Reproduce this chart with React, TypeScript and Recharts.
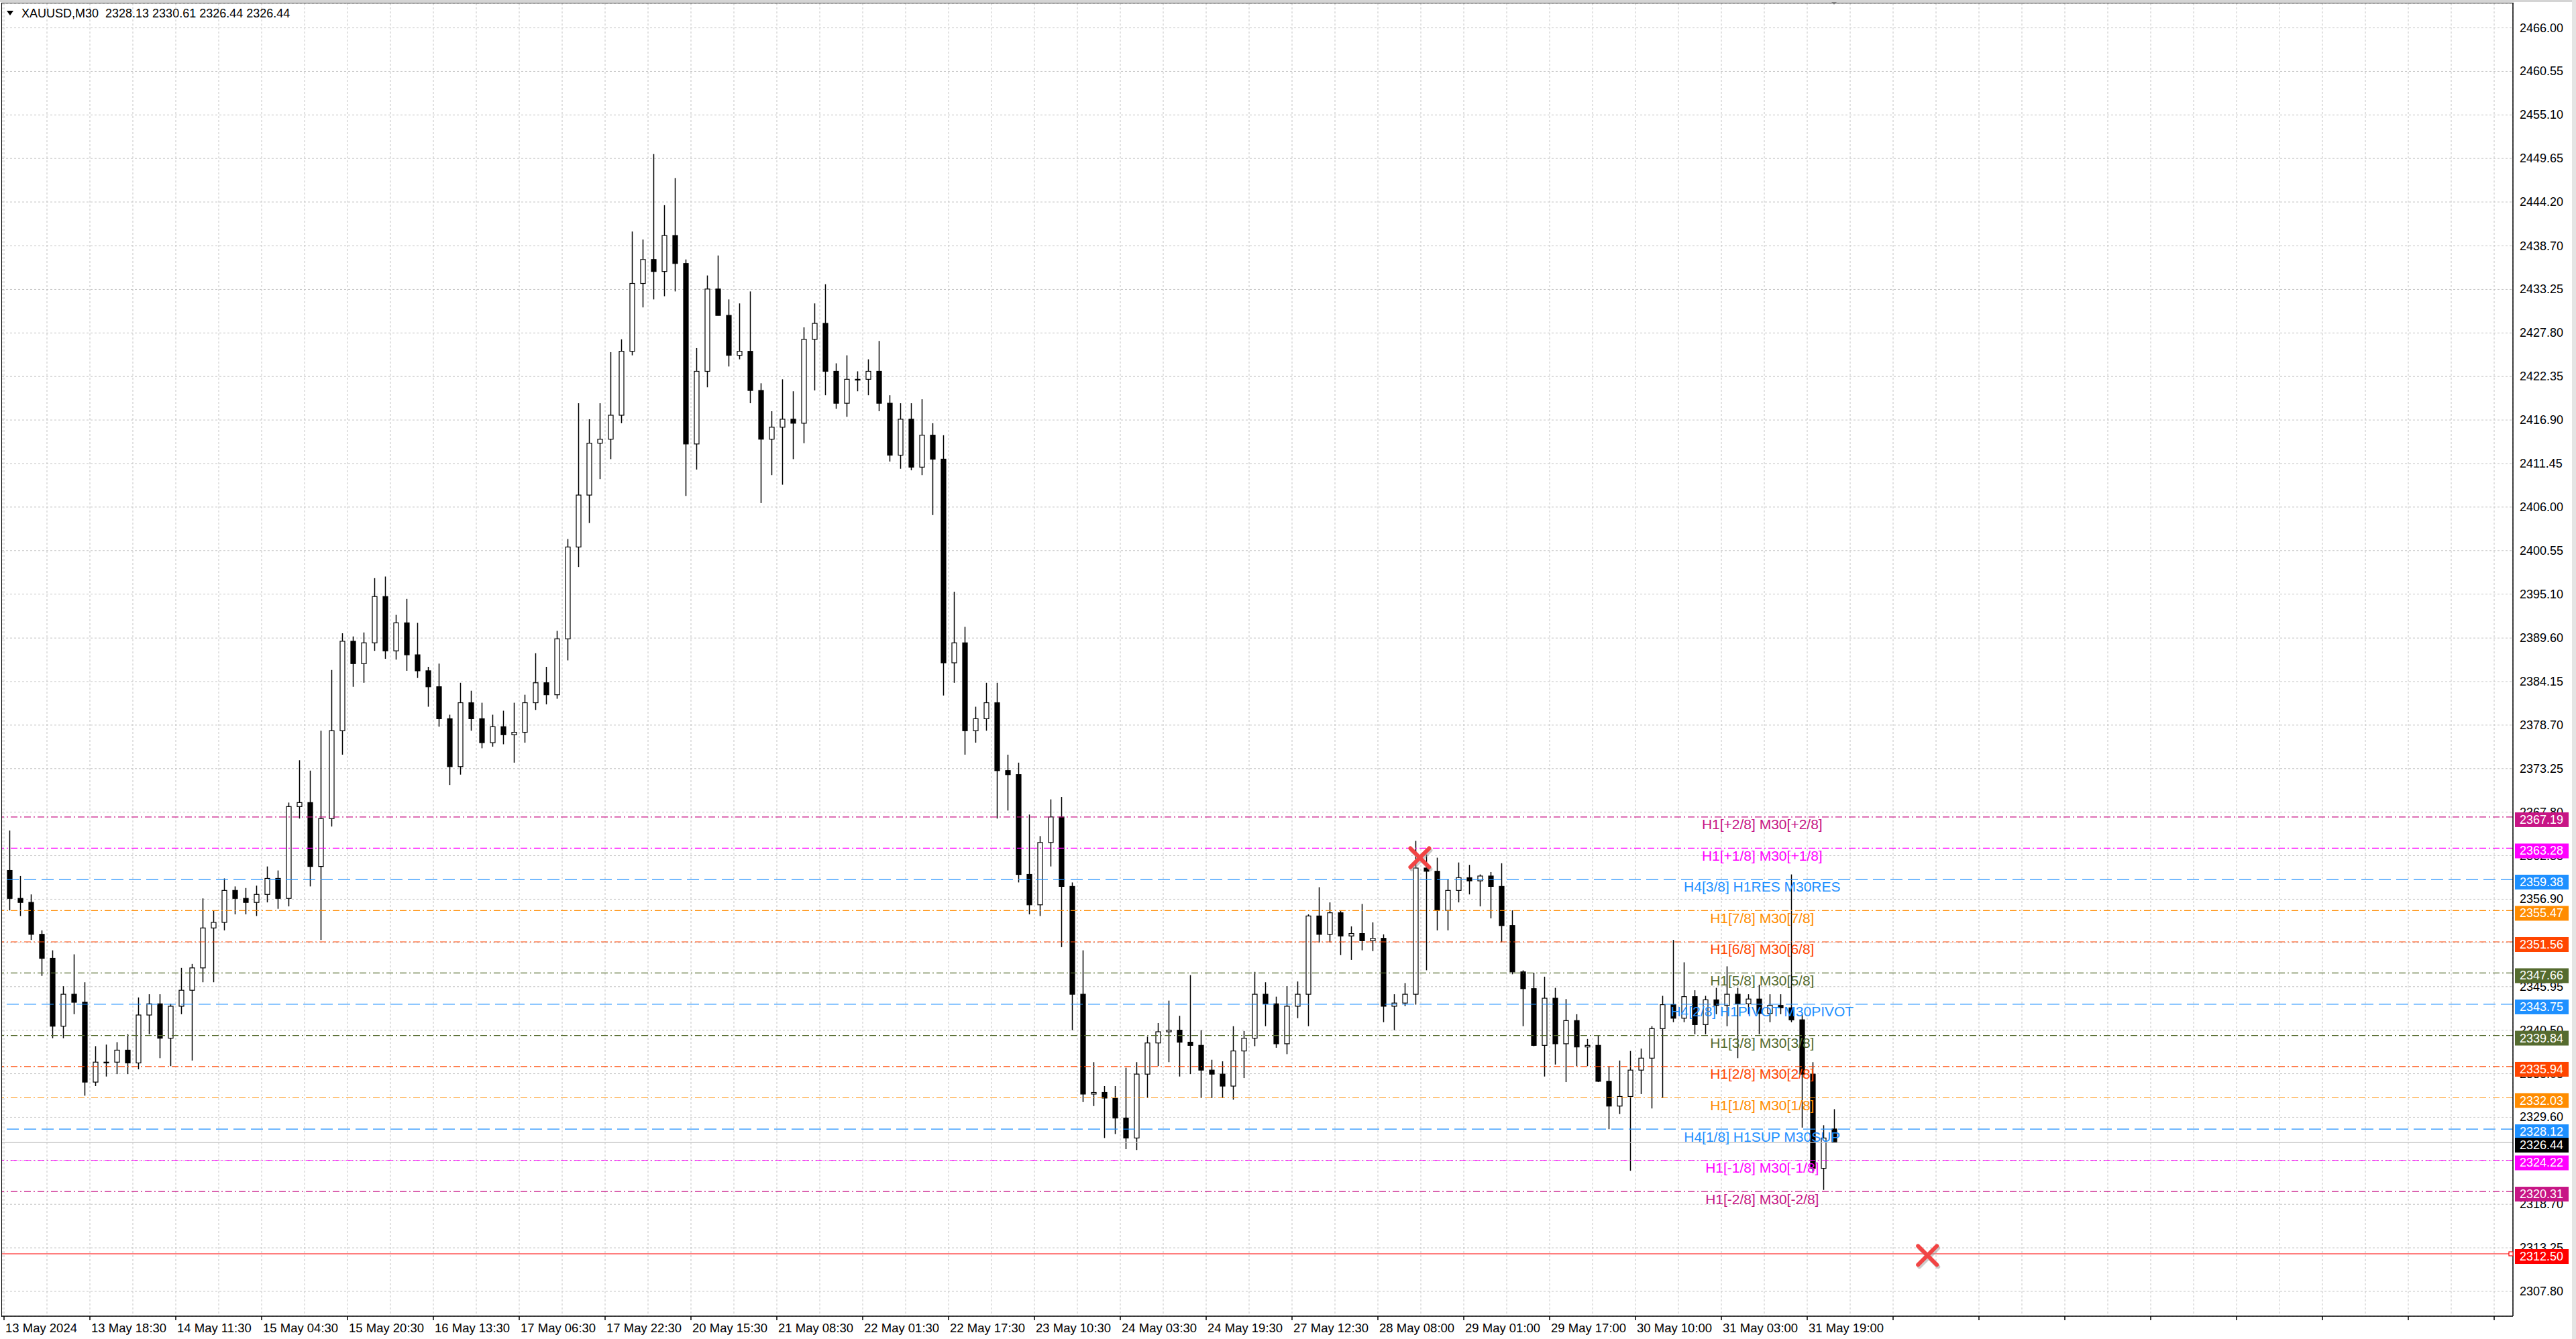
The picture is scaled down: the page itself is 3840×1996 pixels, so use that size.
import React from "react";
import {
  ComposedChart,
  Bar,
  Scatter,
  XAxis,
  YAxis,
  CartesianGrid,
  ReferenceLine,
  ReferenceDot,
} from "recharts";

const FONT = "'Liberation Sans', Arial, sans-serif";

const header = "XAUUSD,M30  2328.13 2330.61 2326.44 2326.44";

// 2-hour candles: open, high, low, close
const ohlc: [number, number, number, number][] = [
  [2360.5, 2365.5, 2355.5, 2357], [2357, 2359.8, 2354.8, 2356.5], [2356.5, 2357.5, 2351.8, 2352.5],
  [2352.5, 2353, 2347.3, 2349.5], [2349.5, 2350.5, 2339.5, 2341], [2341, 2346, 2339.5, 2345],
  [2345, 2350, 2342.5, 2344], [2344, 2346.5, 2332.3, 2334], [2334, 2338.5, 2333.5, 2336.5],
  [2336.5, 2338.7, 2334.7, 2336.5], [2336.5, 2339, 2335, 2338], [2338, 2340, 2335, 2336.4],
  [2336.4, 2344.6, 2335.6, 2342.4], [2342.4, 2345, 2340, 2343.8], [2343.8, 2345, 2337, 2339.5],
  [2339.5, 2343.8, 2336, 2343.5], [2343.5, 2348.3, 2342.5, 2345.5], [2345.5, 2348.8, 2336.7, 2348.3],
  [2348.3, 2357, 2346.5, 2353.3], [2353.3, 2355.5, 2346.5, 2354], [2354, 2359.5, 2353, 2358],
  [2358, 2358.5, 2355, 2357], [2357, 2358.3, 2355, 2356.5], [2356.5, 2358.6, 2354.8, 2357.5],
  [2357.5, 2361, 2356.5, 2359.5], [2359.5, 2360.5, 2355.7, 2357], [2357, 2369, 2356, 2368.5],
  [2368.5, 2374.3, 2367, 2369], [2369, 2373, 2358.5, 2361], [2361, 2378, 2351.8, 2367],
  [2367, 2385.6, 2366, 2378], [2378, 2390.2, 2375, 2389.2], [2389.2, 2389.8, 2383.5, 2386.4],
  [2386.4, 2390.3, 2384, 2389], [2389, 2397.1, 2388, 2394.8], [2394.8, 2397.3, 2387, 2388],
  [2388, 2392.5, 2386.9, 2391.5], [2391.5, 2394.5, 2385.5, 2387.5], [2387.5, 2391.5, 2384.6, 2385.5],
  [2385.5, 2386, 2381, 2383.5], [2383.5, 2386.4, 2378.5, 2379.5], [2379.5, 2380, 2371.2, 2373.5],
  [2373.5, 2384, 2372.5, 2381.5], [2381.5, 2383, 2378, 2379.5], [2379.5, 2381.5, 2375.8, 2376.5],
  [2376.5, 2380, 2376, 2378.5], [2378.5, 2380.5, 2376.3, 2377.5], [2377.5, 2381.5, 2374, 2377.8],
  [2377.8, 2382.5, 2376.5, 2381.5], [2381.5, 2387.7, 2380.6, 2384], [2384, 2386, 2381.3, 2382.5],
  [2382.5, 2390.5, 2382, 2389.5], [2389.5, 2402, 2386.8, 2401], [2401, 2419, 2398.5, 2407.5],
  [2407.5, 2417, 2404, 2414], [2414, 2419, 2409.5, 2414.5], [2414.5, 2425.4, 2412, 2417.5],
  [2417.5, 2427, 2416.5, 2425.5], [2425.5, 2440.5, 2425, 2434], [2434, 2439.5, 2431, 2437],
  [2437, 2450.2, 2432, 2435.5], [2435.5, 2443.8, 2432.4, 2440], [2440, 2447.2, 2433, 2436.5],
  [2436.5, 2437, 2407.4, 2413.9], [2413.9, 2425.9, 2410.7, 2423], [2423, 2435, 2421, 2433.3],
  [2433.3, 2437.5, 2430, 2430], [2430, 2432, 2423.6, 2425], [2425, 2431.5, 2424.5, 2425.5],
  [2425.5, 2433, 2419, 2420.6], [2420.6, 2421.5, 2406.5, 2414.5], [2414.5, 2418, 2410, 2416],
  [2416, 2422, 2408.8, 2417], [2417, 2420.5, 2412, 2416.5], [2416.5, 2428.5, 2414, 2427],
  [2427, 2431.5, 2420.6, 2429], [2429, 2433.9, 2420, 2423], [2423, 2424, 2418.3, 2419],
  [2419, 2425, 2417.3, 2422], [2422, 2423, 2420.5, 2422], [2422, 2424.5, 2420, 2423],
  [2423, 2426.8, 2418, 2419], [2419, 2420, 2411.7, 2412.5], [2412.5, 2419, 2410.8, 2417],
  [2417, 2419, 2410.6, 2411], [2411, 2419.5, 2410, 2415], [2415, 2416.5, 2405, 2412],
  [2412, 2415, 2382.4, 2386.5], [2386.5, 2395.4, 2384, 2389], [2389, 2391, 2375, 2378],
  [2378, 2381, 2376.5, 2379.5], [2379.5, 2384, 2378, 2381.5], [2381.5, 2384, 2367, 2373],
  [2373, 2375, 2368, 2372.5], [2372.5, 2374, 2359, 2360], [2360, 2367.5, 2355, 2356.2],
  [2356.2, 2364.8, 2354.8, 2364], [2364, 2369.4, 2361, 2367.2], [2367.2, 2369.7, 2350.9, 2358.5],
  [2358.5, 2359, 2340.5, 2345], [2345, 2350.5, 2331.5, 2332.5], [2332.5, 2336.5, 2331, 2332.7],
  [2332.7, 2333.5, 2327, 2332], [2332, 2333.5, 2327.5, 2329.5], [2329.5, 2335.8, 2325.6, 2327],
  [2327, 2336.5, 2325.5, 2335], [2335, 2339.7, 2332, 2338.9], [2338.9, 2341.4, 2336, 2340.3],
  [2340.3, 2344.2, 2336.5, 2340.5], [2340.5, 2342.3, 2334.7, 2339], [2339, 2347.4, 2335, 2338.6],
  [2338.6, 2340.5, 2332, 2335.5], [2335.5, 2336.8, 2332, 2335], [2335, 2336.6, 2332, 2333.5],
  [2333.5, 2341, 2331.8, 2337.9], [2337.9, 2340.4, 2334.5, 2339.5], [2339.5, 2347.8, 2338.5, 2345],
  [2345, 2346.5, 2341, 2343.8], [2343.8, 2344.7, 2338.3, 2338.8], [2338.8, 2346, 2337.5, 2343.5],
  [2343.5, 2346.6, 2342, 2345], [2345, 2355, 2341, 2354.8], [2354.8, 2358.4, 2351.5, 2352.5],
  [2352.5, 2356.5, 2351.5, 2355.2], [2355.2, 2355.5, 2349.9, 2352.3], [2352.3, 2353.5, 2349.3, 2352.6],
  [2352.6, 2356.3, 2350.5, 2351.7], [2351.7, 2354, 2350.4, 2352], [2352, 2352.5, 2341.5, 2343.5],
  [2343.5, 2345, 2340.5, 2343.9], [2343.9, 2346.4, 2343.5, 2345], [2345, 2364.2, 2343.7, 2360.8],
  [2360.8, 2362.5, 2348, 2360.4], [2360.4, 2362.1, 2353, 2355.5], [2355.5, 2359.4, 2353, 2358],
  [2358, 2361.5, 2356.5, 2359.6], [2359.6, 2361.2, 2357.5, 2359.2], [2359.2, 2360, 2356, 2359.8],
  [2359.8, 2360.3, 2354.5, 2358.5], [2358.5, 2361.4, 2351.5, 2353.6], [2353.6, 2355.5, 2347.5, 2347.8],
  [2347.8, 2348, 2341, 2345.7], [2345.7, 2347.7, 2338.5, 2338.6], [2338.6, 2347.2, 2334.7, 2344.5],
  [2344.5, 2345.8, 2336.2, 2338.8], [2338.8, 2344.4, 2334, 2341.7], [2341.7, 2342.5, 2336, 2338.4],
  [2338.4, 2339.4, 2336, 2338.6], [2338.6, 2339.8, 2334, 2334.1], [2334.1, 2336, 2328.1, 2331],
  [2331, 2336.7, 2330, 2332.2], [2332.2, 2337.9, 2322.9, 2335.5], [2335.5, 2338.2, 2332.5, 2337],
  [2337, 2341, 2330.7, 2340.7], [2340.7, 2344.8, 2332, 2343.7], [2343.7, 2351.8, 2341.5, 2342],
  [2342, 2349, 2341.5, 2344.7], [2344.7, 2345.5, 2340, 2341.2], [2341.2, 2344.8, 2340, 2344.3],
  [2344.3, 2345.8, 2342.5, 2343.6], [2343.6, 2348.5, 2341, 2345], [2345, 2345.8, 2337, 2343.8],
  [2343.8, 2345, 2342.5, 2344.4], [2344.4, 2346.2, 2340, 2342.6], [2342.6, 2345, 2341.5, 2343.6],
  [2343.6, 2345, 2342.5, 2343.3], [2343.3, 2360, 2341.5, 2341.8], [2341.8, 2342.5, 2328.3, 2335],
  [2335, 2336.5, 2322.6, 2323.2], [2323.2, 2328.6, 2320.5, 2327], [2328.13, 2330.61, 2326.44, 2326.44],
];

const xLabels = [
  "13 May 2024", "13 May 18:30", "14 May 11:30", "15 May 04:30", "15 May 20:30", "16 May 13:30",
  "17 May 06:30", "17 May 22:30", "20 May 15:30", "21 May 08:30", "22 May 01:30", "22 May 17:30",
  "23 May 10:30", "24 May 03:30", "24 May 19:30", "27 May 12:30", "28 May 08:00", "29 May 01:00",
  "29 May 17:00", "30 May 10:00", "31 May 03:00", "31 May 19:00",
];

const yTicks = [
  2466.0, 2460.55, 2455.1, 2449.65, 2444.2, 2438.7, 2433.25, 2427.8, 2422.35, 2416.9,
  2411.45, 2406.0, 2400.55, 2395.1, 2389.6, 2384.15, 2378.7, 2373.25, 2367.8, 2362.35,
  2356.9, 2351.45, 2345.95, 2340.5, 2335.05, 2329.6, 2324.15, 2318.7, 2313.25, 2307.8,
];

// murrey levels
const levelPrices = [
  2367.19, 2363.28, 2359.38, 2355.47, 2351.56, 2347.66, 2343.75,
  2339.84, 2335.94, 2332.03, 2328.12, 2324.22, 2320.31,
];
const levelNames = [
  "H1[+2/8] M30[+2/8]", "H1[+1/8] M30[+1/8]", "H4[3/8] H1RES M30RES", "H1[7/8] M30[7/8]",
  "H1[6/8] M30[6/8]", "H1[5/8] M30[5/8]", "H4[2/8] H1PIVOT M30PIVOT", "H1[3/8] M30[3/8]",
  "H1[2/8] M30[2/8]", "H1[1/8] M30[1/8]", "H4[1/8] H1SUP M30SUP", "H1[-1/8] M30[-1/8]",
  "H1[-2/8] M30[-2/8]",
];
const levelColors = [
  "#C71585", "#FF00FF", "#1E90FF", "#FF8C00", "#FF4500", "#556B2F", "#1E90FF",
  "#556B2F", "#FF4500", "#FF8C00", "#1E90FF", "#FF00FF", "#C71585",
];

const lastPrice = 2326.44;
const stopPrice = 2312.5;
const crossMarks = [
  { i: 131.4, p: 2362.1 },
  { i: 178.7, p: 2312.3 },
];

const W = 3840;
const H = 1996;
const M_TOP = 5;
const M_LEFT = 3;
const X_AXIS_H = 34;
const Y_AXIS_W = 94;
const PLOT_H = H - M_TOP - X_AXIS_H;
const PLOT_RIGHT = W - Y_AXIS_W;

const X_MIN = -0.6875;
const X_MAX = 233.25;
const Y_MIN = 2304.69;
const Y_MAX = 2469.07;
const LABEL_INDEX = 163.3;

const data = ohlc.map(([o, h, l, c], i) => ({ i, o, h, l, c, range: [l, h] }));
const gridTicks = Array.from({ length: 59 }, (_, k) => 4 * k - 0.5);

// price boxes on the right scale, drawn above the axis labels
const boxes = [
  ...levelPrices.map((p, k) => ({ p, color: levelColors[k] })),
  { p: lastPrice, color: "#000" },
  { p: stopPrice, color: "#FF0000" },
];
const priceY = (p: number) => M_TOP + ((Y_MAX - p) / (Y_MAX - Y_MIN)) * PLOT_H;

const Candle = (props: any) => {
  const { x, y, width, height, payload } = props;
  const { o, h, l, c } = payload;
  const top0 = Math.min(y, y + height);
  const hh = Math.abs(height);
  const ppu = h - l > 0 ? hh / (h - l) : 0;
  const cx = Math.round(x + width / 2) + 0.5;
  const bTop = top0 + (h - Math.max(o, c)) * ppu;
  const bBot = top0 + (h - Math.min(o, c)) * ppu;
  const bw = 7;
  return (
    <g>
      <line x1={cx} x2={cx} y1={top0} y2={top0 + hh} stroke="#000" strokeWidth={1.5} />
      <rect
        x={cx - bw / 2}
        y={bTop}
        width={bw}
        height={Math.max(bBot - bTop, 1.2)}
        fill={c >= o ? "#fff" : "#000"}
        stroke="#000"
        strokeWidth={1.2}
      />
    </g>
  );
};

const Cross = (props: any) => {
  const { cx, cy } = props;
  const s = 14;
  return (
    <g>
      <g stroke="#9a9a9a" strokeWidth={6} opacity={0.5} strokeLinecap="round">
        <line x1={cx - s + 2} y1={cy - s + 3} x2={cx + s + 2} y2={cy + s + 3} />
        <line x1={cx + s + 2} y1={cy - s + 3} x2={cx - s + 2} y2={cy + s + 3} />
      </g>
      <g stroke="#F24444" strokeWidth={6} strokeLinecap="round">
        <line x1={cx - s} y1={cy - s} x2={cx + s} y2={cy + s} />
        <line x1={cx + s} y1={cy - s} x2={cx - s} y2={cy + s} />
      </g>
    </g>
  );
};

const ShiftMark = (props: any) => {
  const { cx } = props;
  return <polygon points={`${cx - 7},0 ${cx + 7},0 ${cx},7`} fill="#A8A8A8" />;
};

const XTick = (props: any) => {
  const { x, y, payload } = props;
  const k = Math.round((payload.value + 0.5) / 4);
  if (k % 2 !== 0) return <g />;
  return (
    <g>
      <line x1={x} x2={x} y1={y} y2={y + 6} stroke="#000" strokeWidth={1.5} />
      <text x={x + 2} y={y + 17} dominantBaseline="central" fontSize={18.5} fontFamily={FONT} fill="#000">
        {xLabels[k / 2]}
      </text>
    </g>
  );
};

const YTick = (props: any) => {
  const { x, y, payload } = props;
  return (
    <text x={x + 10} y={y} dominantBaseline="central" fontSize={18} fontFamily={FONT} fill="#000">
      {payload.value.toFixed(2)}
    </text>
  );
};

const levelText = (color: string, name: string) => (p: any) => {
  const { x, y, width } = p.viewBox;
  const tx = x + ((LABEL_INDEX - X_MIN) / (X_MAX - X_MIN)) * width;
  return (
    <text x={tx} y={y + 11} textAnchor="middle" dominantBaseline="central" fontSize={21} fontFamily={FONT} fill={color}>
      {name}
    </text>
  );
};

export default function App() {
  return (
    <div style={{ position: "absolute", left: 0, top: 0, width: W, height: H, background: "#fff", overflow: "hidden" }}>
      <ComposedChart width={W} height={H} data={data} margin={{ top: M_TOP, right: 0, bottom: 0, left: M_LEFT }}>
        <CartesianGrid stroke="#C4C4C4" strokeDasharray="3 3" />
        <XAxis
          dataKey="i"
          type="number"
          domain={[X_MIN, X_MAX]}
          ticks={gridTicks}
          interval={0}
          allowDataOverflow
          height={X_AXIS_H}
          tickSize={0}
          tickMargin={0}
          tick={<XTick />}
          axisLine={{ stroke: "#000", strokeWidth: 1.5 }}
        />
        <YAxis
          orientation="right"
          type="number"
          domain={[Y_MIN, Y_MAX]}
          ticks={yTicks}
          interval={0}
          allowDataOverflow
          width={Y_AXIS_W}
          tickSize={0}
          tickMargin={0}
          tick={<YTick />}
          axisLine={{ stroke: "#000", strokeWidth: 1.5 }}
        />
        <ReferenceLine y={lastPrice} stroke="#C0C0C0" strokeWidth={1.2} />
        <ReferenceLine y={stopPrice} stroke="#FF0000" strokeWidth={1.2} />
        {levelPrices.map((p, k) => (
          <ReferenceLine
            key={p}
            y={p}
            stroke={levelColors[k]}
            strokeWidth={1.2}
            strokeDasharray={levelColors[k] === "#1E90FF" ? "18 8" : "10 4 2 4"}
            label={levelText(levelColors[k], levelNames[k])}
          />
        ))}
        <Bar dataKey="range" barSize={16} shape={<Candle />} isAnimationActive={false} />
        <Scatter data={crossMarks} dataKey="p" shape={<Cross />} isAnimationActive={false} />
        <ReferenceDot x={ohlc.length - 1} y={Y_MAX} r={6} ifOverflow="visible" shape={<ShiftMark />} />
      </ComposedChart>
      <svg width={W} height={H} style={{ position: "absolute", left: 0, top: 0, pointerEvents: "none" }}>
        {boxes.map((b) => {
          const y = priceY(b.p);
          return (
            <g key={b.p}>
              <rect x={PLOT_RIGHT + 3} y={y - 7} width={80} height={22} fill={b.color} />
              <text x={PLOT_RIGHT + 10} y={y + 4} dominantBaseline="central" fontSize={18} fontFamily={FONT} fill="#fff">
                {b.p.toFixed(2)}
              </text>
            </g>
          );
        })}
        <rect x={PLOT_RIGHT - 6} y={priceY(stopPrice) - 3} width={6} height={6} fill="#fff" stroke="#FF0000" strokeWidth={1.2} />
      </svg>
      <div
        style={{
          position: "absolute", left: 2, top: 4, width: PLOT_RIGHT - 2, height: PLOT_H + 1,
          borderLeft: "1.5px solid #000", borderTop: "1.5px solid #000", pointerEvents: "none",
        }}
      />
      <div style={{ position: "absolute", left: 0, top: 0, width: W, height: 3, background: "#D4D4D4" }} />
      <div style={{ position: "absolute", right: 0, top: 0, width: 6, height: H, background: "#E4E4E4" }} />
      <div
        style={{
          position: "absolute", left: 10, top: 9, display: "flex", alignItems: "center",
          fontFamily: FONT, fontSize: 18, lineHeight: "22px", color: "#000", whiteSpace: "pre",
        }}
      >
        <svg width={10} height={8} style={{ marginRight: 12 }}>
          <polygon points="0,0 10,0 5,7" fill="#000" />
        </svg>
        {header}
      </div>
    </div>
  );
}
